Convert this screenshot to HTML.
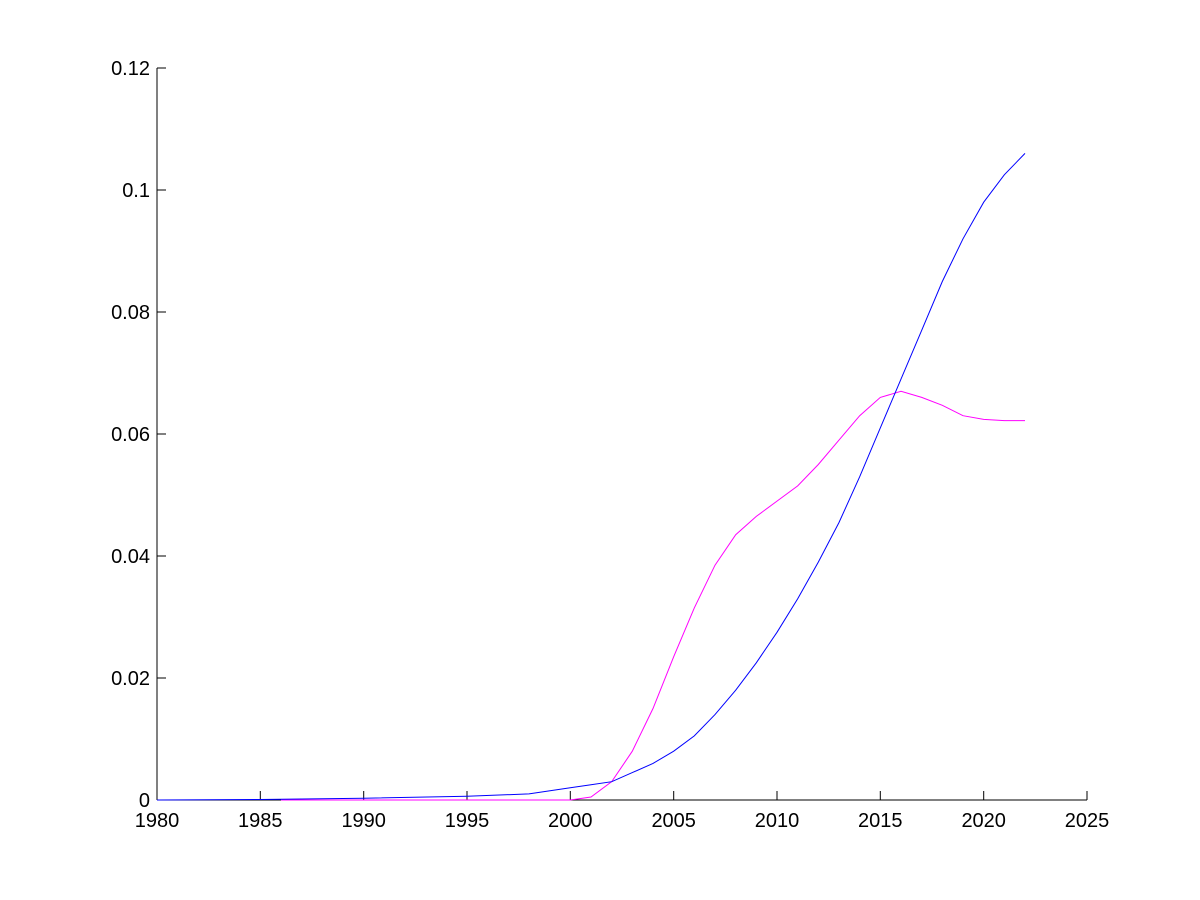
<!DOCTYPE html>
<html><head><meta charset="utf-8"><style>body{margin:0;background:#fff}</style></head>
<body>
<svg width="1200" height="900" xmlns="http://www.w3.org/2000/svg" style="display:block">
<rect width="1200" height="900" fill="#fff"/>
<g font-family="Liberation Sans, sans-serif" font-size="20" fill="#000">
<line x1="157" y1="800" x2="1087" y2="800" stroke="#000"/>
<line x1="157" y1="68" x2="157" y2="800" stroke="#000"/>
<g stroke="#000">
<line x1="260.3" y1="800" x2="260.3" y2="791"/>
<line x1="363.7" y1="800" x2="363.7" y2="791"/>
<line x1="467" y1="800" x2="467" y2="791"/>
<line x1="570.3" y1="800" x2="570.3" y2="791"/>
<line x1="673.7" y1="800" x2="673.7" y2="791"/>
<line x1="777" y1="800" x2="777" y2="791"/>
<line x1="880.3" y1="800" x2="880.3" y2="791"/>
<line x1="983.7" y1="800" x2="983.7" y2="791"/>
<line x1="1087" y1="800" x2="1087" y2="791"/>
<line x1="157" y1="678" x2="166" y2="678"/>
<line x1="157" y1="556" x2="166" y2="556"/>
<line x1="157" y1="434" x2="166" y2="434"/>
<line x1="157" y1="312" x2="166" y2="312"/>
<line x1="157" y1="190" x2="166" y2="190"/>
<line x1="157" y1="68" x2="166" y2="68"/>
</g>
<g text-anchor="middle">
<text x="157" y="827">1980</text><text x="260.3" y="827">1985</text><text x="363.7" y="827">1990</text>
<text x="467" y="827">1995</text><text x="570.3" y="827">2000</text><text x="673.7" y="827">2005</text>
<text x="777" y="827">2010</text><text x="880.3" y="827">2015</text><text x="983.7" y="827">2020</text>
<text x="1087" y="827">2025</text>
</g>
<g text-anchor="end">
<text x="150" y="807">0</text><text x="150" y="685">0.02</text><text x="150" y="563">0.04</text>
<text x="150" y="441">0.06</text><text x="150" y="319">0.08</text><text x="150" y="197">0.1</text>
<text x="150" y="75">0.12</text>
</g>
</g>
<polyline fill="none" stroke="#ff00ff" stroke-width="1" points="281,800 570.3,800 591,797 611.7,781.7 632.3,751.2 653,708.5 673.7,656.7 694.3,607.9 715,565.2 735.7,534.7 756.3,516.4 777,501.1 797.7,485.9 818.3,464.5 839,440.1 859.7,415.7 880.3,397.4 901,391.3 921.7,397.4 942.3,405.3 963,415.7 983.7,419.4 1004.3,420.6 1025,420.6"/>
<polyline fill="none" stroke="#0000ff" stroke-width="1" points="157,800 260,799.5 363.7,798.2 467,796.3 529,793.9 570.3,787.8 591,784.8 611.7,781.7 632.3,772.6 653,763.4 673.7,751.2 694.3,735.9 715,714.6 735.7,690.2 756.3,662.8 777,632.3 797.7,598.7 818.3,562.1 839,522.5 859.7,476.7 880.3,427.9 901,379.1 921.7,330.3 942.3,281.5 963,238.8 983.7,202.2 1004.3,174.8 1025,153.4"/>
</svg>
</body></html>
